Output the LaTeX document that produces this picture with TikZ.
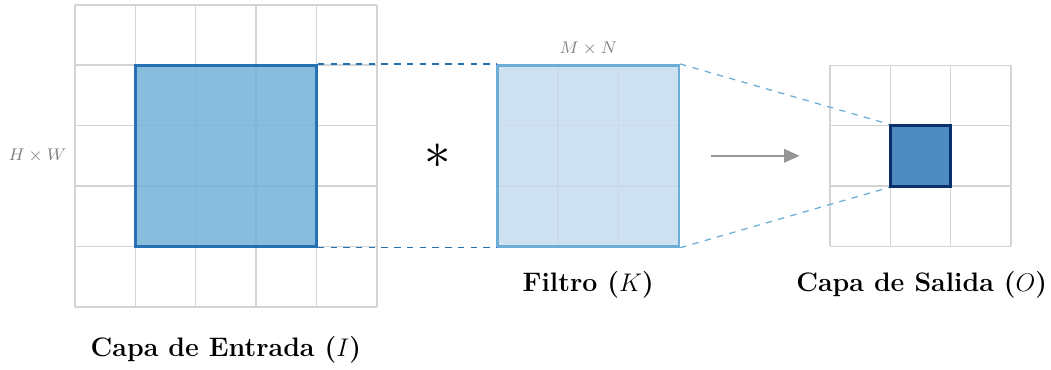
\documentclass[tikz,border=0pt]{standalone}
\usetikzlibrary{arrows.meta}
\definecolor{gridgray}{RGB}{212,212,212}
\definecolor{inblue}{RGB}{38,112,180}
\definecolor{infill}{RGB}{115,177,215}
\definecolor{filtline}{RGB}{107,174,214}
\definecolor{filtfill}{RGB}{198,220,239}
\definecolor{outfill}{RGB}{77,139,194}
\definecolor{outline}{RGB}{8,48,107}
\definecolor{arrgray}{RGB}{150,150,150}
\begin{document}
\begin{tikzpicture}[every node/.style={inner sep=0pt},
  gridln/.style={draw=gridgray,line width=0.7pt},
  win/.style={draw=inblue,fill=infill,fill opacity=0.85,line width=1.2pt,minimum size=3cm},
  filt/.style={draw=filtline,fill=filtfill,fill opacity=0.85,line width=1.2pt,minimum size=3cm},
  outc/.style={draw=outline,fill=outfill,line width=1.4pt,minimum size=1cm},
  link/.style={dashed,line width=0.6pt},
  dimlbl/.style={font=\footnotesize,text=gray},
  title/.style={font=\fontsize{12.6}{15}\selectfont\bfseries}]
\useasboundingbox (-1.24,-1.03) rectangle (16.16,5.08);
% input layer
\draw[gridln] (0,0) grid (5,5);
\node[win] (inp) at (2.5,2.5) {};
\node[dimlbl] (hw) at (-0.62,2.5) {$H\times W$};
\node[title] (tin) at (2.5,-0.71) {Capa de Entrada ($I$)};
% filter
\draw[gridln] (7,1) grid (10,4);
\node[filt] (ker) at (8.5,2.5) {};
\node[dimlbl] (mn) at (8.5,4.27) {$M\times N$};
\node[title] (tker) at (8.5,0.36) {Filtro ($K$)};
\node[font=\Huge] (op) at (6,2.5) {$\ast$};
% output layer
\draw[gridln,shift={(12.5,1)}] (0,0) grid (3,3);
\node[outc] (outc) at (14,2.5) {};
\node[title] (tout) at (14.02,0.36) {Capa de Salida ($O$)};
% projections
\draw[link,draw=inblue] (inp.north east) -- (ker.north west);
\draw[link,draw=inblue] (inp.south east) -- (ker.south west);
\draw[link,draw=filtline] (ker.north east) -- (outc.north west);
\draw[link,draw=filtline] (ker.south east) -- (outc.south west);
\coordinate (a0) at (10.53,2.5); \coordinate (a1) at (12.0,2.5);
\draw[-{Triangle[length=2.6mm,width=2.2mm]},draw=arrgray,fill=arrgray,line width=1.2pt] (a0) -- (a1);
\end{tikzpicture}
\end{document}
